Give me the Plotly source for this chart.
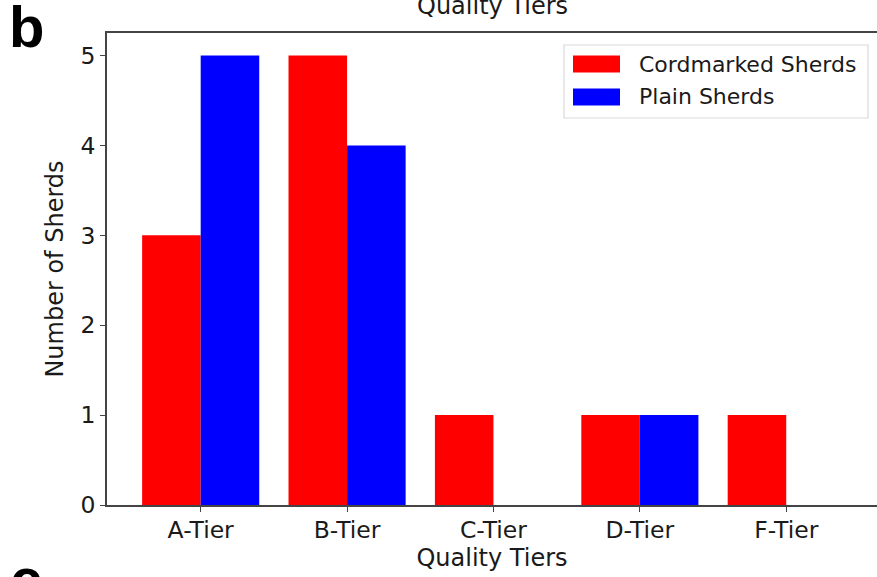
import plotly.graph_objects as go

categories = ["A-Tier", "B-Tier", "C-Tier", "D-Tier", "F-Tier"]
cordmarked = [3, 5, 1, 1, 1]
plain = [5, 4, 0, 1, 0]
series_names = ["Cordmarked Sherds", "Plain Sherds"]
series_colors = ["#ff0000", "#0000ff"]
y_ticks = [0, 1, 2, 3, 4, 5]

W, H = 877, 577
L, R, T, B = 107, 877, 33, 505


def px(x):
    return (x - L) / (R - L)


def py(y):
    return (B - y) / (B - T)


FONT = "DejaVu Sans"
TXT = "#1a1a1a"
AX = "#444444"

fig = go.Figure()
for name, vals, col in zip(series_names, [cordmarked, plain], series_colors):
    fig.add_trace(go.Bar(x=categories, y=vals, name=name,
                         marker=dict(color=col, line=dict(width=0)),
                         showlegend=False))

fig.update_layout(
    barmode="group", bargap=0.2, bargroupgap=0,
    width=W, height=H,
    margin=dict(l=L, r=W - R, t=T, b=H - B, autoexpand=False),
    plot_bgcolor="white", paper_bgcolor="white",
    font=dict(family=FONT, size=22, color=TXT),
    xaxis=dict(range=[-0.64, 4.62], showline=True, linecolor=AX, linewidth=1.6,
               mirror=True, ticks="outside", ticklen=5, tickwidth=1.4,
               tickcolor=AX, showgrid=False, zeroline=False,
               ticklabelstandoff=-2,
               title=dict(text="Quality Tiers", standoff=1,
                          font=dict(size=24, family=FONT, color=TXT)),
               tickfont=dict(size=23.5, family=FONT, color=TXT)),
    yaxis=dict(range=[0, 5.25], tickvals=y_ticks, showline=True, linecolor=AX,
               linewidth=1.6, ticks="outside", ticklen=5, tickwidth=1.4,
               tickcolor=AX, showgrid=False, zeroline=False,
               title=dict(text="Number of Sherds", standoff=10,
                          font=dict(size=24, family=FONT, color=TXT)),
               tickfont=dict(size=23.5, family=FONT, color=TXT)),
)

# Title (partly cut at top in the reference)
fig.add_annotation(text="Quality Tiers", xref="paper", yref="paper",
                   x=px(493), y=py(22), xanchor="center", yanchor="bottom",
                   showarrow=False, font=dict(size=24, family=FONT, color=TXT))

# Panel letters
fig.add_annotation(text="<b>b</b>", xref="paper", yref="paper",
                   x=px(7), y=py(-8), xanchor="left", yanchor="top",
                   showarrow=False,
                   font=dict(size=58, family="Liberation Sans", color="#000000"))
fig.add_annotation(text="<b>c</b>", xref="paper", yref="paper",
                   x=px(8), y=py(544), xanchor="left", yanchor="top",
                   showarrow=False,
                   font=dict(size=58, family="Liberation Sans", color="#000000"))

# Legend drawn as a matplotlib-style box
fig.add_shape(type="rect", xref="paper", yref="paper",
              x0=px(564), x1=px(868), y0=py(118), y1=py(45),
              line=dict(color="#d9d9d9", width=1.2), fillcolor="white",
              layer="above")
row_y = [64, 97]
for name, col, yy in zip(series_names, series_colors, row_y):
    fig.add_shape(type="rect", xref="paper", yref="paper",
                  x0=px(573), x1=px(620), y0=py(yy + 8.5), y1=py(yy - 8.5),
                  line=dict(width=0), fillcolor=col, layer="above")
    fig.add_annotation(text=name, xref="paper", yref="paper",
                       x=px(637), y=py(yy), xanchor="left", yanchor="middle",
                       showarrow=False,
                       font=dict(size=22, family=FONT, color=TXT))

fig.write_html("out.html")
